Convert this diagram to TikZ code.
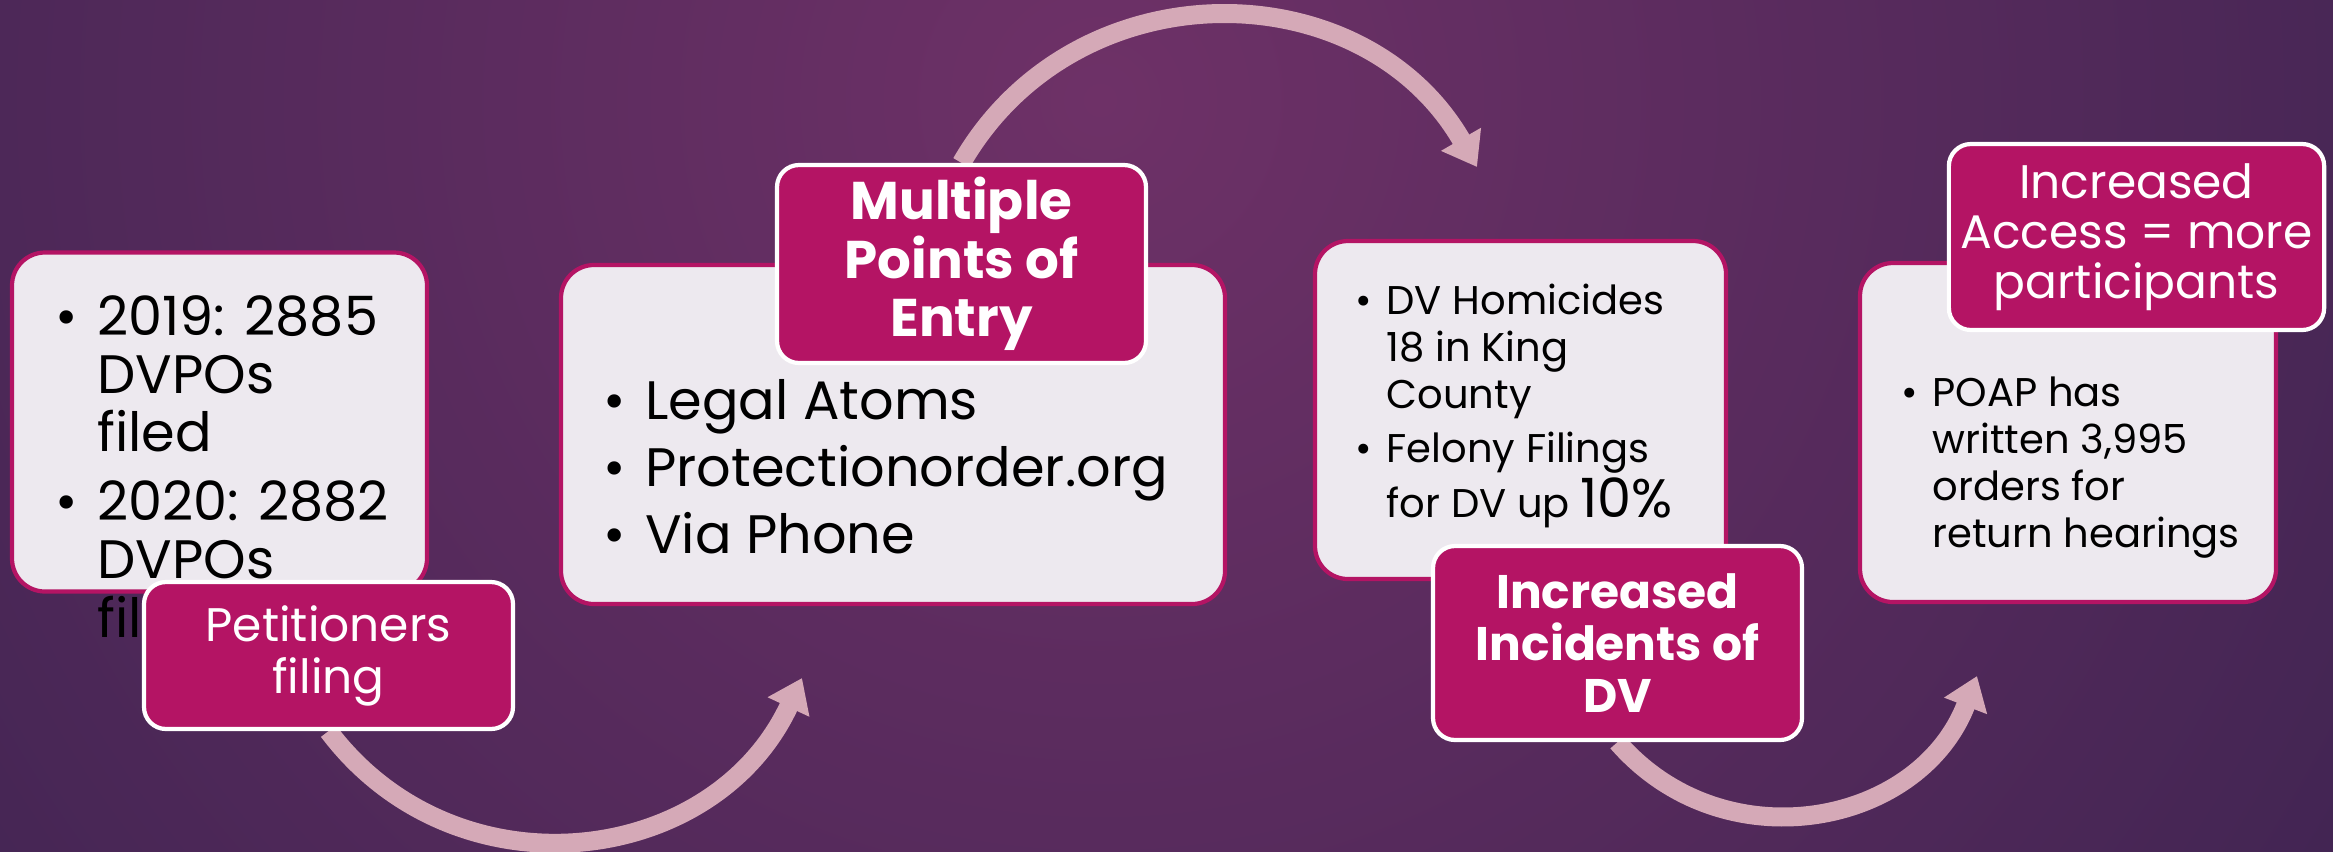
\documentclass[tikz,border=0pt]{standalone}
\usepackage{fontspec}
\setmainfont{Poppins}
\usepackage{tikz}
\usetikzlibrary{shapes,arrows.meta,calc}
\definecolor{bgin}{RGB}{110,49,103}
\definecolor{bgout}{RGB}{38,29,70}
\definecolor{plum}{RGB}{180,20,100}
\definecolor{paper}{RGB}{237,233,239}
\definecolor{pinkarrow}{RGB}{213,169,183}
\pgfdeclarelayer{bg}
\pgfsetlayers{bg,main}
\tikzstyle{panel} = [draw=plum, fill=paper, line width=1.2pt, rounded corners=0.33cm,
    minimum width=4.15cm, minimum height=3.39cm]
\tikzstyle{tag} = [draw=white, fill=plum, text=white, line width=1.2pt,
    rounded corners=0.22cm, minimum width=3.69cm, align=center]
\tikzstyle{list} = [anchor=base west, inner sep=0pt, align=left]
\tikzstyle{point} = [coordinate]
\tikzstyle{flow} = [draw=pinkarrow, line width=0.19cm, looseness=1.13,
    -{Triangle[length=0.32cm,width=0.44cm]}]
\newcommand{\bul}{\makebox[0.77em][l]{\textbullet}}
\newcommand{\ind}{\hspace*{0.77em}}

\begin{document}
\begin{tikzpicture}
    \useasboundingbox (0,0) rectangle (23.33,-8.51);
    \node [panel] at (2.195,-4.22) (box1) {};
    \node [list, font=\fontsize{15.4pt}{16.6pt}\selectfont] at (0.55,-6.37) (list1)
        {\bul 2019: 2885\\ \ind DVPOs\\ \ind filed\\[0.1cm] \bul 2020: 2882\\ \ind DVPOs\\ \ind filed};
    \node [tag, minimum height=1.47cm, font=\fontsize{13.4pt}{14.8pt}\selectfont] at (3.285,-6.555) (title1) {Petitioners\\filing};
    \node [panel, minimum width=6.64cm] at (8.93,-4.345) (box2) {};
    \node [list, font=\fontsize{15.4pt}{19.06pt}\selectfont] at (6.03,-5.53) (list2)
        {\bul Legal Atoms\\ \bul Protectionorder.org\\ \bul Via Phone};
    \node [tag, minimum height=1.98cm, font=\bfseries\fontsize{15.1pt}{16.6pt}\selectfont] at (9.615,-2.64) (title2) {Multiple\\Points of\\Entry};
    \node [panel, minimum width=4.11cm, minimum height=3.38cm] at (15.205,-4.10) (box3) {};
    \node [list, font=\fontsize{11.4pt}{13.3pt}\selectfont] at (13.55,-5.17) (list3)
        {\bul DV Homicides\\ \ind 18 in King\\ \ind County\\[0.08cm] \bul Felony Filings\\ \ind for DV up {\fontsize{15.4pt}{16pt}\selectfont 10\%}};
    \node [tag, minimum height=1.94cm, font=\bfseries\fontsize{13.4pt}{14.9pt}\selectfont] at (16.175,-6.43) (title3) {Increased\\Incidents of\\DV};
    \node [panel, minimum width=4.16cm] at (20.68,-4.325) (box4) {};
    \node [list, font=\fontsize{11.4pt}{13.3pt}\selectfont] at (19.01,-5.47) (list4)
        {\bul POAP has\\ \ind written 3,995\\ \ind orders for\\ \ind return hearings};
    \node [tag, minimum height=1.86cm, font=\fontsize{13.4pt}{14.2pt}\selectfont] at (21.365,-2.37) (title4) {Increased\\Access = more\\participants};
    \node [point, name=tip1] at (8.02,-6.78) {};
    \node [point, name=tip2] at (14.77,-1.67) {};
    \node [point, name=tip3] at (19.77,-6.76) {};
    \begin{pgfonlayer}{bg}
        \begin{scope}
            \clip (0,0) rectangle (23.33,-8.51);
            \shade [inner color=bgin, outer color=bgout] (11,-1) circle (24);
        \end{scope}
        \draw [flow] (title1.south) to [out=-53, in=-115] (tip1);
        \draw [flow] (title2.north) to [out=60, in=120] (tip2);
        \draw [flow] (title3.south) to [out=-49, in=-111] (tip3);
    \end{pgfonlayer}
\end{tikzpicture}
\end{document}
